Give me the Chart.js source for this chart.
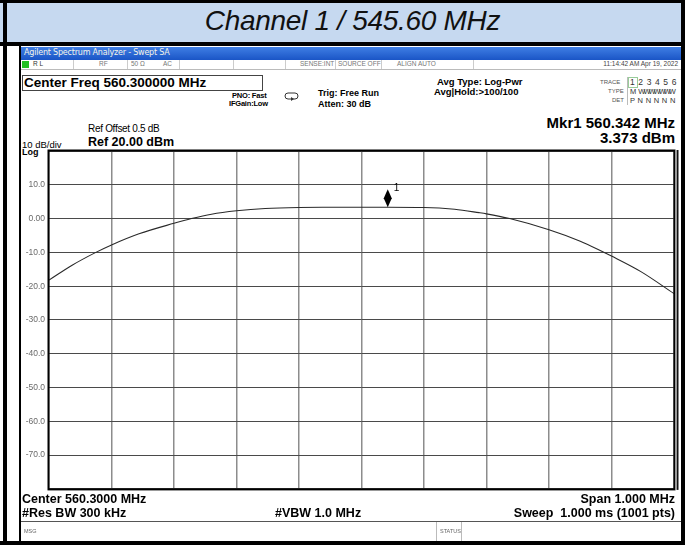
<!DOCTYPE html>
<html>
<head>
<meta charset="utf-8">
<script src="https://cdn.jsdelivr.net/npm/chart.js@4.4.1/dist/chart.umd.min.js"></script>
<style>
  body { margin:0; background:#fff; font-family:"Liberation Sans", Arial, sans-serif; }
  #page { position:relative; width:685px; height:545px; overflow:hidden; background:#fff; }
  .abs { position:absolute; white-space:nowrap; line-height:1; }
  .b { font-weight:bold; }
  #title-band { left:0; top:0; width:685px; height:44px; background:#c6d9f0; }
  #title-txt { left:10px; width:685px; top:7px; text-align:center; font-size:28px; font-style:italic; color:#111; letter-spacing:-0.3px; }
  .frame { position:absolute; background:#000; }
  #bar { left:21px; top:47px; width:660px; height:13px; background:linear-gradient(#3f7ee4,#1a55c6); }
  #bar span { position:absolute; left:3px; top:2px; font-size:8px; color:#f4f4e8; font-family:"DejaVu Sans", sans-serif; letter-spacing:-0.2px; }
  #status-row { left:21px; top:60px; width:660px; height:9px; border-bottom:1px solid #bbb; }
  .cell { position:absolute; top:1px; font-size:6.5px; color:#777; }
  .sep { position:absolute; top:0; width:1px; height:9px; background:#ccc; }
  #cf-box { left:22px; top:75px; width:239px; height:14px; border:1px solid #444; }
  #chart-wrap { position:absolute; left:20px; top:140px; width:660px; height:358px; }
  .small { font-size:7.5px; }
  .foot { font-size:12.5px; }
</style>
</head>
<body>
<div id="page">
  <div id="title-band" class="abs"></div>
  <div id="title-txt" class="abs">Channel 1 / 545.60 MHz</div>

  <!-- outer table frame -->
  <div class="frame" style="left:0;top:0;width:685px;height:3px"></div>
  <div class="frame" style="left:3px;top:0;width:4px;height:545px"></div>
  <div class="frame" style="left:681px;top:0;width:4px;height:545px"></div>
  <div class="frame" style="left:0;top:42px;width:685px;height:4px"></div>
  <div class="frame" style="left:0;top:541px;width:685px;height:4px"></div>
  <div class="frame" style="left:19px;top:46px;width:2px;height:496px"></div>

  <div id="bar" class="abs"><span>Agilent Spectrum Analyzer - Swept SA</span></div>
  <div id="status-row" class="abs">
    <div class="abs" style="left:1px;top:1px;width:7px;height:7px;background:#22c022"></div>
    <span class="cell" style="left:12px;color:#333">R L</span>
    <div class="sep" style="left:52px"></div>
    <span class="cell" style="left:78px">RF</span>
    <div class="sep" style="left:106px"></div>
    <span class="cell" style="left:110px">50 Ω</span>
    <span class="cell" style="left:142px">AC</span>
    <div class="sep" style="left:158px"></div>
    <div class="sep" style="left:212px"></div>
    <div class="sep" style="left:264px"></div>
    <span class="cell" style="left:279px">SENSE:INT</span>
    <div class="sep" style="left:314px"></div>
    <span class="cell" style="left:317px">SOURCE OFF</span>
    <div class="sep" style="left:360px"></div>
    <span class="cell" style="left:376px">ALIGN AUTO</span>
    <div class="sep" style="left:452px"></div>
    <span class="cell" style="right:3px;color:#444">11:14:42 AM Apr 19, 2022</span>
  </div>

  <div id="cf-box" class="abs"></div>
  <div class="abs b" style="left:24px;top:76px;font-size:13.5px">Center Freq 560.300000 MHz</div>
  <div class="abs b small" style="left:232px;top:92px;letter-spacing:-0.2px">PNO: Fast</div>
  <div class="abs b small" style="left:229px;top:100px;letter-spacing:-0.2px">IFGain:Low</div>
  <svg class="abs" style="left:284px;top:92px" width="16" height="10">
    <rect x="1" y="1" width="13" height="6" rx="3" fill="none" stroke="#333" stroke-width="1"/>
    <path d="M7 5 L10 7 L7 9 Z" fill="#333"/>
  </svg>
  <div class="abs b" style="left:318px;top:89px;font-size:9px">Trig: Free Run</div>
  <div class="abs b" style="left:318px;top:100px;font-size:9px">Atten: 30 dB</div>
  <div class="abs b" style="left:437px;top:77px;font-size:9.5px">Avg Type: Log-Pwr</div>
  <div class="abs b" style="left:434px;top:87px;font-size:9.5px">Avg|Hold:&gt;100/100</div>

  <div class="abs" style="left:600px;top:79px;font-size:6px;color:#555">TRACE</div>
  <div class="abs" style="left:608px;top:88px;font-size:6px;color:#555">TYPE</div>
  <div class="abs" style="left:612px;top:97px;font-size:6px;color:#555">DET</div>
  <div class="abs" style="left:627px;top:77px;width:53px;height:28px;border-left:1px solid #bbb"></div>
  <div class="abs" style="left:628px;top:77px;width:8px;height:9px;border:1px solid #9c9"></div>
  <div class="abs" style="left:630px;top:78px;font-size:8.5px;color:#333;letter-spacing:3.6px">123456</div>
  <div class="abs" style="left:630px;top:88px;font-size:7.5px;color:#333">M <span style="letter-spacing:-2px">WWWWWWW</span></div>
  <div class="abs" style="left:630px;top:97px;font-size:7.5px;color:#333;letter-spacing:0.3px">P N N N N N</div>

  <div class="abs b" style="right:10px;top:115px;font-size:15px;text-align:right">Mkr1 560.342 MHz</div>
  <div class="abs b" style="right:10px;top:130px;font-size:15px;text-align:right">3.373 dBm</div>

  <div class="abs" style="left:88px;top:124px;font-size:10px;letter-spacing:-0.3px">Ref Offset 0.5 dB</div>
  <div class="abs b" style="left:88px;top:136px;font-size:12.5px">Ref 20.00 dBm</div>
  <div class="abs" style="left:22px;top:140px;font-size:9.5px">10 dB/div</div>
  <div class="abs b" style="left:22px;top:148px;font-size:9px">Log</div>

  <div id="chart-wrap"><canvas id="spec"></canvas></div>

  <div class="abs b foot" style="left:22px;top:493px">Center 560.3000 MHz</div>
  <div class="abs b foot" style="left:22px;top:507px">#Res BW 300 kHz</div>
  <div class="abs b foot" style="left:275px;top:507px">#VBW 1.0 MHz</div>
  <div class="abs b foot" style="right:10px;top:493px">Span 1.000 MHz</div>
  <div class="abs b foot" style="right:10px;top:507px">Sweep&nbsp; 1.000 ms (1001 pts)</div>

  <div class="abs" style="left:21px;top:521px;width:660px;height:1px;background:#555"></div>
  <div class="abs" style="left:24px;top:529px;font-size:5.5px;color:#666">MSG</div>
  <div class="abs" style="left:436px;top:522px;width:1px;height:19px;background:#bbb"></div>
  <div class="abs" style="left:440px;top:529px;font-size:5.5px;color:#666">STATUS</div>
  <div class="abs" style="left:461px;top:522px;width:1px;height:19px;background:#bbb"></div>
</div>

<script>
// ── Data ──────────────────────────────────────────────────────────────────
const freqMHz = [559.800, 559.837, 559.875, 559.900, 559.944, 560.000, 560.028, 560.060,
                 560.100, 560.146, 560.200, 560.250, 560.300, 560.342, 560.400, 560.449,
                 560.488, 560.500, 560.537, 560.600, 560.650, 560.690, 560.700, 560.747, 560.800];
const levelDbm = [-18.2, -13.8, -10.0, -7.8, -4.5, -1.4, 0.0, 1.3,
                  2.3, 3.0, 3.3, 3.35, 3.37, 3.373, 3.3, 2.75,
                  1.75, 1.4, 0.0, -3.3, -6.7, -10.2, -11.1, -15.7, -22.2];
const markerFreq = [560.342];
const markerLevel = [3.373];
const markerLabels = ['1'];

const yTicks = [20, 10, 0, -10, -20, -30, -40, -50, -60, -70, -80];
const xStart = 559.8, xEnd = 560.8, xStep = 0.1;

// ── Plugins ────────────────────────────────────────────────────────────────
const frame = {
  id: 'frame',
  afterDraw(chart) {
    const { ctx, chartArea: a } = chart;
    ctx.save();
    ctx.strokeStyle = '#000';
    ctx.lineWidth = 2;
    ctx.strokeRect(a.left - 0.5, a.top - 0.5, a.right - a.left + 1, a.bottom - a.top + 1);
    ctx.fillStyle = '#999';
    ctx.fillRect(a.right + 1, a.top - 1, 2, a.bottom - a.top + 2);
    ctx.fillStyle = '#111';
    ctx.fillRect(a.right + 3, a.top - 1, 1.5, a.bottom - a.top + 2);
    ctx.restore();
  }
};

const markerPlugin = {
  id: 'marker',
  afterDatasetsDraw(chart) {
    const { ctx } = chart;
    const meta = chart.getDatasetMeta(1);
    meta.data.forEach((pt, i) => {
      const x = pt.x, y = pt.y;
      ctx.save();
      ctx.fillStyle = '#000';
      ctx.beginPath();
      ctx.moveTo(x, y - 18);
      ctx.lineTo(x + 4, y - 9);
      ctx.lineTo(x, y);
      ctx.lineTo(x - 4, y - 9);
      ctx.closePath();
      ctx.fill();
      ctx.font = '10px "Liberation Sans", Arial';
      ctx.textBaseline = 'top';
      ctx.fillText(markerLabels[i], x + 6, y - 24);
      ctx.restore();
    });
  }
};

// ── Chart ──────────────────────────────────────────────────────────────────
new Chart(document.getElementById('spec').getContext('2d'), {
  type: 'line',
  data: {
    datasets: [
      {
        data: freqMHz.map((f, i) => ({ x: f, y: levelDbm[i] })),
        borderColor: '#2a2a2a',
        borderWidth: 1.1,
        pointRadius: 0,
        fill: false,
        cubicInterpolationMode: 'monotone',
      },
      {
        data: markerFreq.map((f, i) => ({ x: f, y: markerLevel[i] })),
        showLine: false,
        pointRadius: 0,
      }
    ]
  },
  options: {
    responsive: true,
    maintainAspectRatio: false,
    animation: false,
    layout: { padding: { left: 0, right: 6, top: 11, bottom: 8 } },
    plugins: { legend: { display: false }, tooltip: { enabled: false } },
    scales: {
      x: {
        type: 'linear', min: xStart, max: xEnd,
        ticks: { display: false, stepSize: xStep },
        grid: { color: '#8c8c8c', lineWidth: 1.5, drawTicks: false },
        border: { display: false },
        afterFit: s => { s.height = 0; },
      },
      y: {
        min: yTicks[yTicks.length - 1], max: yTicks[0],
        afterBuildTicks: s => { s.ticks = yTicks.map(v => ({ value: v })); },
        ticks: {
          padding: 4,
          color: '#6a6a6a',
          font: { family: '"Liberation Sans", Arial', size: 8.5 },
          callback: v => (v === yTicks[0] || v === yTicks[yTicks.length - 1]) ? '' : (v === 0 ? '0.00' : v.toFixed(1)),
        },
        grid: { color: '#4a4a4a', lineWidth: 1, drawTicks: false },
        border: { display: false },
        afterFit: s => { s.width = 29; },
      }
    }
  },
  plugins: [frame, markerPlugin]
});
</script>
</body>
</html>
